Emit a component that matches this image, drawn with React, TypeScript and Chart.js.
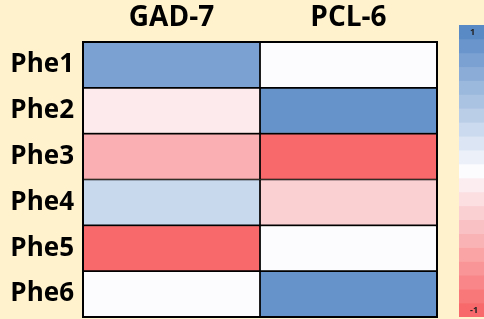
import React, { useEffect, useRef } from "react";
import { Chart, registerables } from "chart.js";
Chart.register(...registerables);

const rows = ["Phe1", "Phe2", "Phe3", "Phe4", "Phe5", "Phe6"];
const columns = ["GAD-7", "PCL-6"];
const gadValues = [0.8, -0.12, -0.52, 0.32, -1.0, 0.0];
const pclValues = [0.0, 0.92, -1.0, -0.3, 0.0, 0.92];
const legendSteps = [1, 0.9, 0.8, 0.7, 0.6, 0.5, 0.4, 0.3, 0.2, 0.1, 0, -0.1, -0.2, -0.3, -0.4, -0.5, -0.6, -0.7, -0.8, -0.9, -1];
const legendTicks = [1, -1];

const HIGH = [90, 138, 198];
const MID = [252, 252, 255];
const LOW = [248, 105, 107];

function scaleColor(v: number): string {
  const t = Math.min(1, Math.abs(v));
  const end = v >= 0 ? HIGH : LOW;
  const c = MID.map((m, i) => Math.round(m + (end[i] - m) * t));
  return `rgb(${c[0]},${c[1]},${c[2]})`;
}

const FONT = "'Open Sans', 'Liberation Sans', sans-serif";

export default function App() {
  const mainRef = useRef<HTMLCanvasElement>(null);
  const barRef = useRef<HTMLCanvasElement>(null);

  useEffect(() => {
    const outline = {
      id: "outline",
      afterDatasetsDraw(chart: any) {
        const { ctx, chartArea } = chart;
        ctx.save();
        ctx.strokeStyle = "#000";
        ctx.lineWidth = 2;
        ctx.strokeRect(chartArea.left, chartArea.top, chartArea.right - chartArea.left, chartArea.bottom - chartArea.top);
        ctx.restore();
      },
    };
    const main = new Chart(mainRef.current!, {
      type: "bar",
      data: {
        labels: rows,
        datasets: [
          {
            label: columns[0],
            data: rows.map(() => 1),
            backgroundColor: gadValues.map(scaleColor),
            borderColor: "#000",
            borderWidth: 1.2,
            borderSkipped: false,
            barPercentage: 1,
            categoryPercentage: 1,
          },
          {
            label: columns[1],
            data: rows.map(() => 1),
            backgroundColor: pclValues.map(scaleColor),
            borderColor: "#000",
            borderWidth: 1.2,
            borderSkipped: false,
            barPercentage: 1,
            categoryPercentage: 1,
          },
        ],
      },
      options: {
        indexAxis: "y",
        animation: false,
        responsive: false,
        maintainAspectRatio: false,
        layout: { padding: { left: 0, right: 47, top: 0, bottom: 2 } },
        plugins: { legend: { display: false }, tooltip: { enabled: false } },
        scales: {
          x: {
            type: "linear",
            stacked: true,
            position: "top",
            min: 0,
            max: 2,
            grid: { display: false },
            border: { display: false },
            afterBuildTicks: (s: any) => {
              s.ticks = [{ value: 0.5 }, { value: 1.5 }];
            },
            afterFit: (s: any) => {
              s.height = 42;
              s.paddingLeft = 0;
              s.paddingRight = 0;
            },
            ticks: {
              callback: (v: any) => columns[Math.floor(Number(v))],
              color: "#000",
              padding: -1,
              font: { family: FONT, size: 28, weight: "bold" },
            },
          },
          y: {
            stacked: true,
            grid: { display: false },
            border: { display: false },
            afterFit: (s: any) => {
              s.width = 83;
              s.paddingTop = 0;
              s.paddingBottom = 0;
            },
            ticks: {
              color: "#000",
              padding: 1,
              font: { family: FONT, size: 26, weight: "bold" },
            },
          },
        },
      },
      plugins: [outline],
    } as any);

    const bar = new Chart(barRef.current!, {
      type: "bar",
      data: {
        labels: [""],
        datasets: legendSteps.map((v) => ({
          data: [[v - 0.05, v + 0.05]],
          backgroundColor: scaleColor(v),
          borderWidth: 0,
          barPercentage: 1,
          categoryPercentage: 1,
          grouped: false,
        })),
      },
      options: {
        animation: false,
        responsive: false,
        maintainAspectRatio: false,
        layout: { padding: 0 },
        plugins: { legend: { display: false }, tooltip: { enabled: false } },
        scales: {
          x: { display: false },
          y: {
            type: "linear",
            min: -1.05,
            max: 1.05,
            grid: { display: false },
            border: { display: false },
            afterBuildTicks: (s: any) => {
              s.ticks = legendTicks.map((value) => ({ value }));
            },
            afterFit: (s: any) => {
              s.width = 0;
              s.paddingTop = 0;
              s.paddingBottom = 0;
            },
            ticks: {
              z: 1,
              mirror: true,
              padding: 11,
              color: "#222",
              callback: (v: any) => String(v),
              font: { family: FONT, size: 9, weight: "bold" },
            },
          },
        },
      },
    } as any);

    return () => {
      main.destroy();
      bar.destroy();
    };
  }, []);

  return (
    <div style={{ position: "fixed", left: 0, top: 0, width: 484, height: 319, background: "#FFF2CC", overflow: "hidden" }}>
      <canvas ref={mainRef} width={484} height={319} style={{ position: "absolute", left: 0, top: 0, width: 484, height: 319 }} />
      <canvas ref={barRef} width={25} height={292} style={{ position: "absolute", left: 459, top: 25, width: 25, height: 292 }} />
    </div>
  );
}
